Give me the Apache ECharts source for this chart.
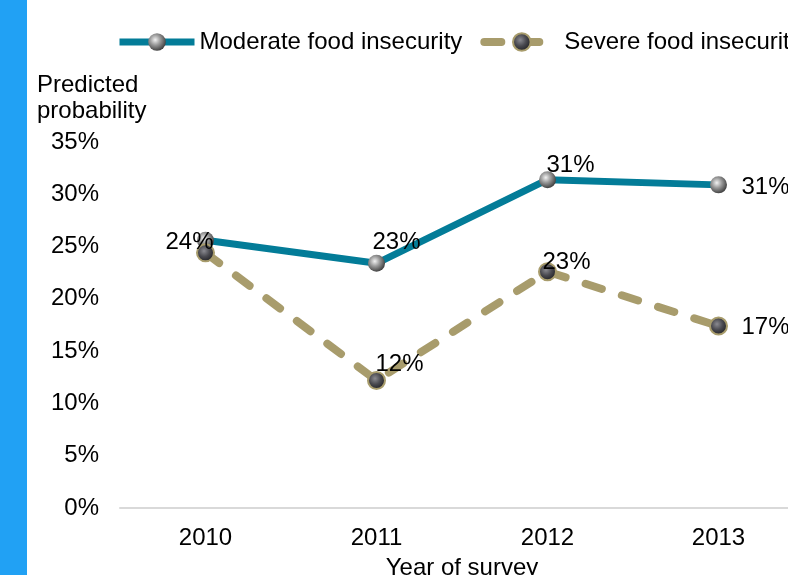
<!DOCTYPE html>
<html>
<head>
<meta charset="utf-8">
<script src="https://cdn.jsdelivr.net/npm/echarts@6/dist/echarts.min.js"></script>
<style>
  html, body { margin: 0; padding: 0; background: #ffffff; }
  #chart { width: 788px; height: 575px; }
</style>
</head>
<body>
<div id="chart"></div>
<script>
// Survey years on the category axis
const years = ['2010', '2011', '2012', '2013'];
// Predicted probability (%) for each food insecurity level
const moderate = [25.6, 23.4, 31.4, 30.9];
const severe = [24.4, 12.2, 22.6, 17.4];
// Value axis range and step (%)
const yMin = 0;
const yMax = 35;
const yStep = 5;

// Where each value label sits relative to its point ([dx, dy] in px), null = no label
const moderateLabelOffsets = [null, [20, -21], [23, -14], [47, 3]];
const severeLabelOffsets = [[-16, -10], [23, -16], [19, -9], [47, 1]];

const FONT = '"Liberation Sans", Arial, sans-serif';
const FS = 24;

const MOD_COLOR = '#037C98';
const SEV_COLOR = '#A89C6C';

function pct(v) { return Math.round(v) + '%'; }

function buildPoints(values, offsets) {
  return values.map((v, i) => {
    const off = offsets[i];
    return {
      value: v,
      label: off ? {
        show: true,
        position: 'inside',
        offset: off,
        align: 'center',
        verticalAlign: 'middle',
        formatter: p => pct(p.value),
        color: '#000',
        fontSize: FS,
        fontFamily: FONT
      } : { show: false }
    };
  });
}

const greySphere = {
  type: 'radial', x: 0.4, y: 0.38, r: 0.65,
  colorStops: [
    { offset: 0, color: '#f2f2f2' },
    { offset: 0.45, color: '#9a9a9a' },
    { offset: 1, color: '#3c3c3c' }
  ]
};
const darkSphere = {
  type: 'radial', x: 0.42, y: 0.4, r: 0.6,
  colorStops: [
    { offset: 0, color: '#8a8a90' },
    { offset: 0.5, color: '#4a4a50' },
    { offset: 1, color: '#1e1e22' }
  ]
};

const chart = echarts.init(document.getElementById('chart'), null, { renderer: 'canvas' });

chart.setOption({
  animation: false,
  backgroundColor: '#ffffff',
  textStyle: { fontFamily: FONT },
  graphic: [
    { type: 'rect', left: 0, top: 0, shape: { width: 27, height: 575 }, style: { fill: '#21A1F4' } },
    {
      type: 'text', left: 37, top: 72,
      style: {
        text: 'Predicted\nprobability',
        fill: '#000', fontSize: FS, fontFamily: FONT, lineHeight: 26
      }
    }
  ],
  legend: {
    left: 116,
    top: 30,
    padding: 0,
    width: 1200,
    orient: 'horizontal',
    itemWidth: 75,
    itemHeight: 22,
    itemGap: 18,
    textStyle: { color: '#000', fontSize: FS, fontFamily: FONT },
    data: [
      { name: 'Moderate food insecurity', lineStyle: { width: 7, color: MOD_COLOR } },
      { name: 'Severe food insecurity', lineStyle: { width: 8, color: SEV_COLOR, type: [17, 21], cap: 'round' } }
    ]
  },
  grid: { left: 120, right: -16, top: 142, bottom: 67, containLabel: false, outerBoundsMode: 'none' },
  xAxis: {
    type: 'category',
    data: years,
    boundaryGap: true,
    name: 'Year of survey',
    nameLocation: 'middle',
    nameGap: 48,
    nameTextStyle: { color: '#000', fontSize: FS, fontFamily: FONT },
    axisLine: { show: true, lineStyle: { color: '#D9D9D9', width: 2 } },
    axisTick: { show: false },
    axisLabel: { color: '#000', fontSize: FS, fontFamily: FONT, margin: 18 },
    splitLine: { show: false }
  },
  yAxis: {
    type: 'value',
    min: yMin,
    max: yMax,
    interval: yStep,
    axisLine: { show: false },
    axisTick: { show: false },
    splitLine: { show: false },
    axisLabel: {
      color: '#000', fontSize: FS, fontFamily: FONT, margin: 21,
      formatter: v => v + '%'
    }
  },
  series: [
    {
      name: 'Moderate food insecurity',
      type: 'line',
      data: buildPoints(moderate, moderateLabelOffsets),
      symbol: 'circle',
      symbolSize: 17,
      lineStyle: { color: MOD_COLOR, width: 7 },
      itemStyle: { color: greySphere, borderWidth: 0 },
      z: 2
    },
    {
      name: 'Severe food insecurity',
      type: 'line',
      data: buildPoints(severe, severeLabelOffsets),
      symbol: 'circle',
      symbolSize: 17,
      lineStyle: { color: SEV_COLOR, width: 8, type: [17, 21], cap: 'round' },
      itemStyle: { color: darkSphere, borderColor: SEV_COLOR, borderWidth: 2 },
      z: 3
    }
  ]
});
</script>
</body>
</html>
